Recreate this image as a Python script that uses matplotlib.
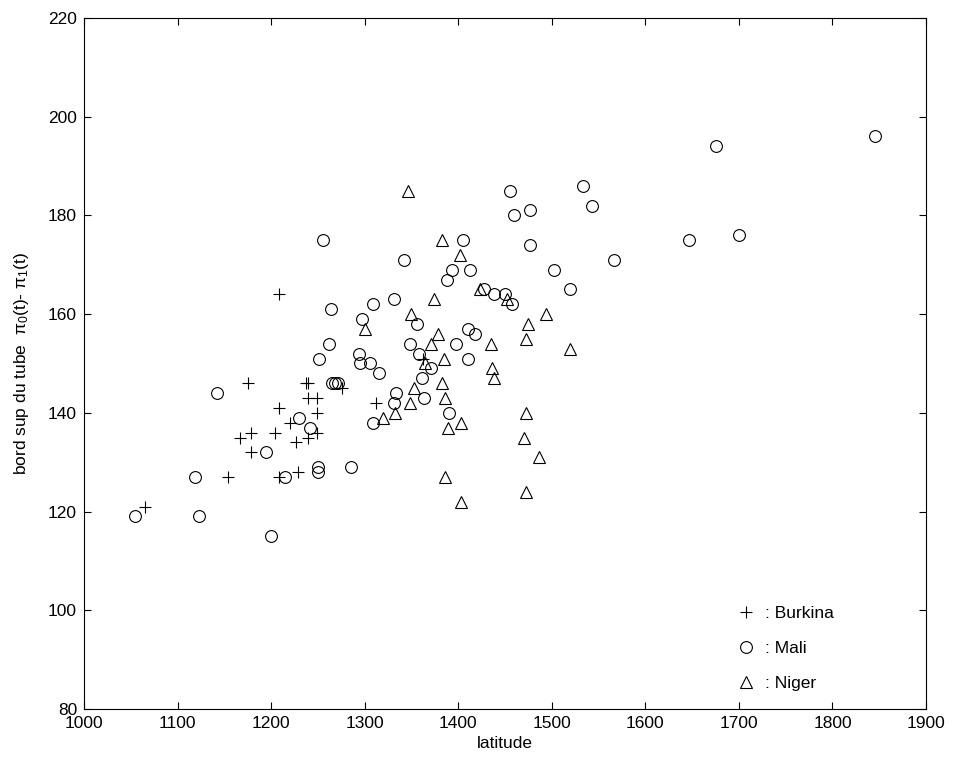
import numpy as np
import matplotlib
matplotlib.use("Agg")
import matplotlib.pyplot as plt

plt.rcParams['font.family'] = ['Liberation Sans', 'DejaVu Sans']
plt.rcParams['mathtext.fontset'] = 'custom'
plt.rcParams['mathtext.rm'] = 'Liberation Sans'
plt.rcParams['mathtext.it'] = 'Liberation Sans:italic'

# Burkina (+)
burkina_x = [1065, 1154, 1167, 1175, 1179, 1178, 1204, 1208, 1208, 1208, 1220, 1227,
             1229, 1237, 1239, 1239, 1249, 1249, 1239, 1249, 1276, 1312, 1362]
burkina_y = [121, 127, 135, 146, 136, 132, 136, 164, 141, 127, 138, 134,
             128, 146, 146, 143, 143, 140, 135, 136, 145, 142, 151]

# Mali (o)
mali_x = [1055, 1119, 1123, 1142, 1194, 1200, 1215, 1230, 1242, 1250, 1250, 1255,
          1264, 1262, 1251, 1265, 1268, 1271, 1285, 1294, 1295, 1297, 1309, 1306,
          1315, 1309, 1331, 1342, 1348, 1356, 1358, 1371, 1361, 1334, 1331, 1363,
          1390, 1388, 1393, 1398, 1405, 1410, 1410, 1413, 1418, 1428, 1438, 1450,
          1458, 1455, 1460, 1477, 1477, 1502, 1520, 1533, 1543, 1567, 1647, 1675,
          1700, 1846]
mali_y = [119, 127, 119, 144, 132, 115, 127, 139, 137, 129, 128, 175,
          161, 154, 151, 146, 146, 146, 129, 152, 150, 159, 162, 150,
          148, 138, 163, 171, 154, 158, 152, 149, 147, 144, 142, 143,
          140, 167, 169, 154, 175, 157, 151, 169, 156, 165, 164, 164,
          162, 185, 180, 181, 174, 169, 165, 186, 182, 171, 175, 194,
          176, 196]

# Niger (triangle)
niger_x = [1346, 1383, 1402, 1423, 1452, 1374, 1349, 1300, 1494, 1475, 1472, 1520,
           1378, 1371, 1435, 1385, 1364, 1436, 1438, 1383, 1353, 1348, 1386, 1332,
           1320, 1389, 1403, 1472, 1470, 1486, 1386, 1403, 1472]
niger_y = [185, 175, 172, 165, 163, 163, 160, 157, 160, 158, 155, 153,
           156, 154, 154, 151, 150, 149, 147, 146, 145, 142, 143, 140,
           139, 137, 138, 140, 135, 131, 127, 122, 124]

fig = plt.figure(figsize=(9.6, 7.63), dpi=100)
ax = fig.add_axes([0.0875, 0.0708, 0.8771, 0.9056])

kw = dict(linestyle='none', color='black', markerfacecolor='none', markeredgewidth=0.8)
ax.plot(burkina_x, burkina_y, marker='+', markersize=9, label=': Burkina', **kw)
ax.plot(mali_x, mali_y, marker='o', markersize=8.5, label=': Mali', **kw)
ax.plot(niger_x, niger_y, marker='^', markersize=9, label=': Niger', **kw)

ax.set_xlim(1000, 1900)
ax.set_ylim(80, 220)
ax.set_xticks(np.arange(1000, 1901, 100))
ax.set_yticks(np.arange(80, 221, 20))
ax.tick_params(direction='in', top=True, right=True, length=5, width=0.8,
               labelsize=12.5, pad=5)
for s in ax.spines.values():
    s.set_linewidth(0.8)

ax.set_xlabel('latitude', fontsize=12.5, labelpad=4)
ax.set_ylabel(r'bord sup du tube  π$_0$(t)- π$_1$(t)', fontsize=12.5, labelpad=12)

ax.legend(loc='lower left', bbox_to_anchor=(0.757, 0.004), frameon=False,
          fontsize=12.5, handlelength=1.0, handletextpad=0.6, labelspacing=1.13,
          numpoints=1)

fig.savefig('out.png', dpi=100)
